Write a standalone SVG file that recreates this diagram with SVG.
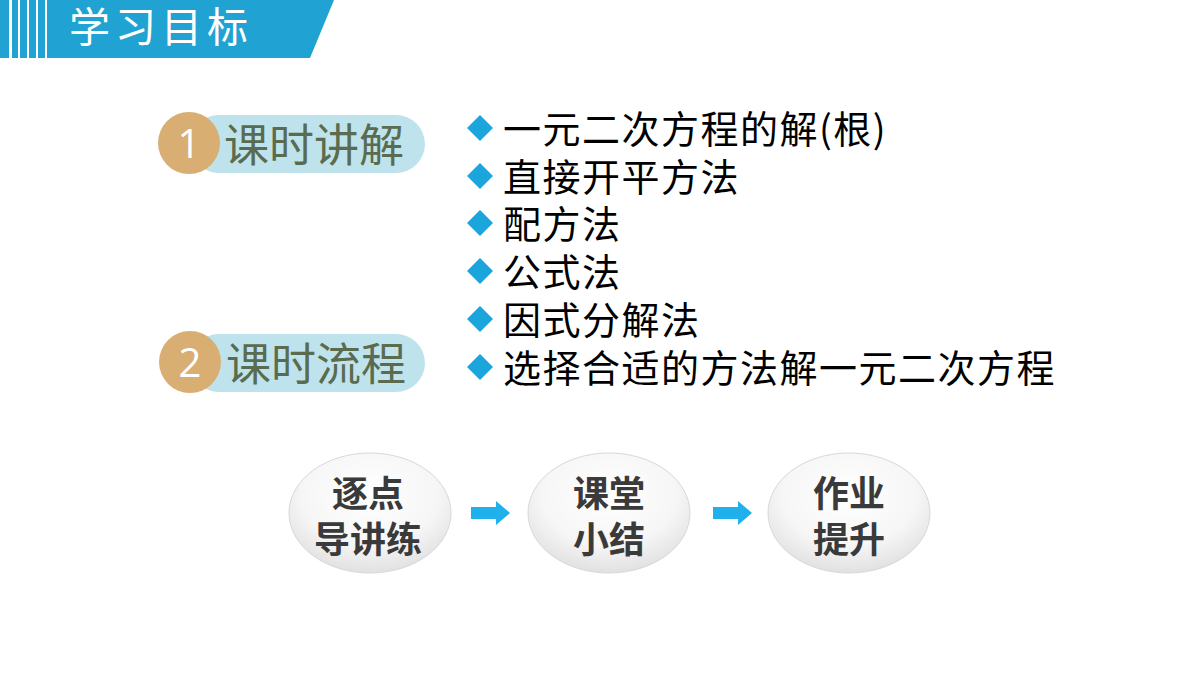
<svg xmlns="http://www.w3.org/2000/svg" width="1200" height="675" viewBox="0 0 1200 675">
<style>
.cjk{font-family:"Noto Sans CJK SC","Noto Sans",sans-serif}
.pill{fill:#bfe3ec}
.num{fill:#d8ae72}
.pt{font-size:45px;fill:#5a6b4f}
.nt{font-size:40px;fill:#fff;font-family:"Open Sans",sans-serif}
.bt{font-size:38px;fill:#000;letter-spacing:1.5px}
.dia{fill:#1aa5dc}
.nd{font-size:36px;font-weight:bold;fill:#3a3a3a;text-anchor:middle}
.arr{fill:#20b0ec}
</style>
<defs>
<radialGradient id="g" cx="0.5" cy="0.35" r="0.7">
<stop offset="0" stop-color="#ffffff"/><stop offset="0.6" stop-color="#f6f6f6"/><stop offset="1" stop-color="#dcdcdc"/>
</radialGradient>
<path id="d" d="M0,-13 L13,0 L0,13 L-13,0 Z"/>
</defs>
<g id="header">
<polygon points="0,0 334,0 310,58 0,58" fill="#20a3d2"/>
<g fill="#fff"><rect x="9" y="0" width="3" height="58"/><rect x="18" y="0" width="2" height="58"/><rect x="27" y="0" width="2" height="58"/><rect x="36" y="0" width="2" height="58"/><rect x="45" y="0" width="2" height="58"/></g>
<text x="69" y="42" class="cjk" font-size="41" letter-spacing="5" fill="#fff">学习目标</text>
</g>
<g id="item1">
<rect x="190" y="115" width="235" height="58" rx="29" class="pill"/>
<circle cx="189" cy="143" r="31" class="num"/>
<text x="189" y="158" class="nt" text-anchor="middle">1</text>
<text x="224" y="162" class="cjk pt">课时讲解</text>
</g>
<g id="item2">
<rect x="190" y="334" width="235" height="58" rx="29" class="pill"/>
<circle cx="190" cy="362" r="31" class="num"/>
<text x="190" y="377" class="nt" text-anchor="middle">2</text>
<text x="226" y="381" class="cjk pt">课时流程</text>
</g>
<g id="bullets" class="cjk">
<use href="#d" x="480" y="128" class="dia"/><text x="503" y="143" class="bt">一元二次方程的解(根)</text>
<use href="#d" x="480" y="176" class="dia"/><text x="503" y="191" class="bt">直接开平方法</text>
<use href="#d" x="480" y="223" class="dia"/><text x="503" y="238" class="bt">配方法</text>
<use href="#d" x="480" y="271" class="dia"/><text x="503" y="286" class="bt">公式法</text>
<use href="#d" x="480" y="319" class="dia"/><text x="503" y="334" class="bt">因式分解法</text>
<use href="#d" x="480" y="367" class="dia"/><text x="503" y="382" class="bt">选择合适的方法解一元二次方程</text>
</g>
<g id="n1"><ellipse cx="370" cy="513" rx="81" ry="60" fill="url(#g)" stroke="#d8d8d8"/><text x="368" y="507" class="cjk nd">逐点</text><text x="368" y="553" class="cjk nd">导讲练</text></g>
<g id="n2"><ellipse cx="609" cy="513" rx="81" ry="60" fill="url(#g)" stroke="#d8d8d8"/><text x="609" y="507" class="cjk nd">课堂</text><text x="609" y="553" class="cjk nd">小结</text></g>
<g id="n3"><ellipse cx="849" cy="513" rx="81" ry="60" fill="url(#g)" stroke="#d8d8d8"/><text x="849" y="507" class="cjk nd">作业</text><text x="849" y="553" class="cjk nd">提升</text></g>
<g id="connectors">
<polygon class="arr" points="471,507 496,507 496,501 510,513 496,525 496,519 471,519"/>
<polygon class="arr" points="713,507 738,507 738,501 752,513 738,525 738,519 713,519"/>
</g>
</svg>
